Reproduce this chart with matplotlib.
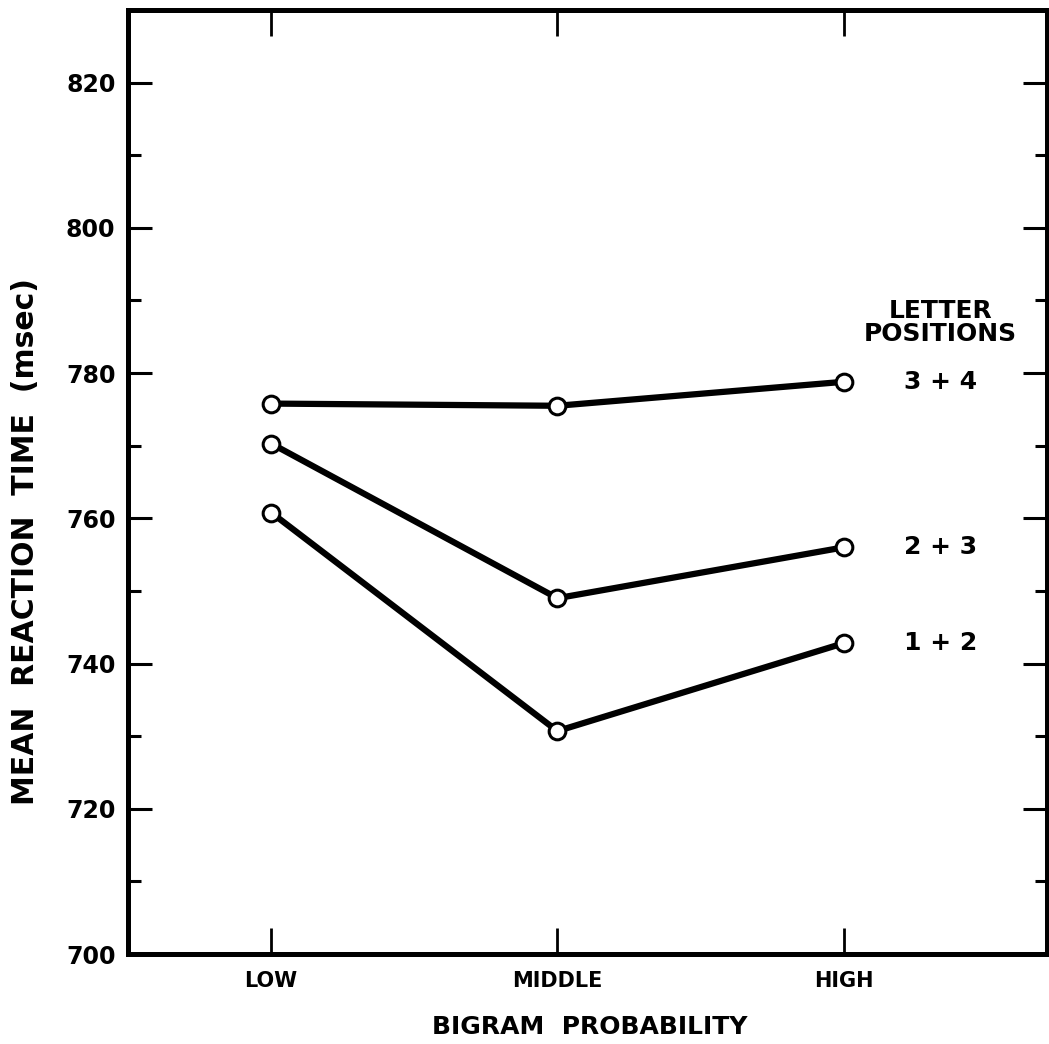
import numpy as np
import matplotlib.pyplot as plt
from matplotlib.ticker import MultipleLocator

categories = ['LOW', 'MIDDLE', 'HIGH']
pos_34 = [775.8, 775.5, 778.8]
pos_23 = [770.3, 749.0, 756.0]
pos_12 = [760.8, 730.7, 742.8]
series_labels = ['3 + 4', '2 + 3', '1 + 2']

plt.rcParams['font.family'] = 'DejaVu Sans'

fig = plt.figure(figsize=(10.49, 10.44), dpi=100)
ax = fig.add_axes([0.122, 0.0862, 0.876, 0.9042])

x = np.arange(len(categories))
for vals in (pos_34, pos_23, pos_12):
    ax.plot(x, vals, color='black', lw=4.5, marker='o', ms=12,
            mfc='white', mec='black', mew=2.2, solid_capstyle='round', zorder=3)

for lab, vals in zip(series_labels, (pos_34, pos_23, pos_12)):
    ax.text(2.338, vals[-1], lab, ha='center', va='center',
            fontsize=18, fontweight='bold')
ax.text(2.338, 787.0, 'LETTER\nPOSITIONS', ha='center', va='center',
        fontsize=18, fontweight='bold', linespacing=0.95)

ax.set_xlim(-0.5, 2.71)
ax.set_ylim(700, 830)
ax.set_xticks(x)
ax.set_xticklabels(categories)
ax.yaxis.set_major_locator(MultipleLocator(20))
ax.yaxis.set_minor_locator(MultipleLocator(10))

ax.tick_params(axis='x', which='major', direction='in', length=19, width=2,
               top=True, bottom=True, labelsize=15, pad=12)
ax.tick_params(axis='y', which='major', direction='in', length=17, width=2.2,
               left=True, right=True, labelsize=17, pad=9)
ax.tick_params(axis='y', which='minor', direction='in', length=9, width=2.2,
               left=True, right=True)
for lab in ax.get_xticklabels() + ax.get_yticklabels():
    lab.set_fontweight('bold')

for s in ax.spines.values():
    s.set_linewidth(3.6)

ax.set_xlabel('BIGRAM  PROBABILITY', fontsize=18, fontweight='bold')
ax.xaxis.set_label_coords(0.503, -0.0646)
ax.set_ylabel('MEAN  REACTION  TIME  (msec)', fontsize=21.5, fontweight='bold')
ax.yaxis.set_label_coords(-0.0958, 0.4375)

fig.savefig('out.png', dpi=100)
